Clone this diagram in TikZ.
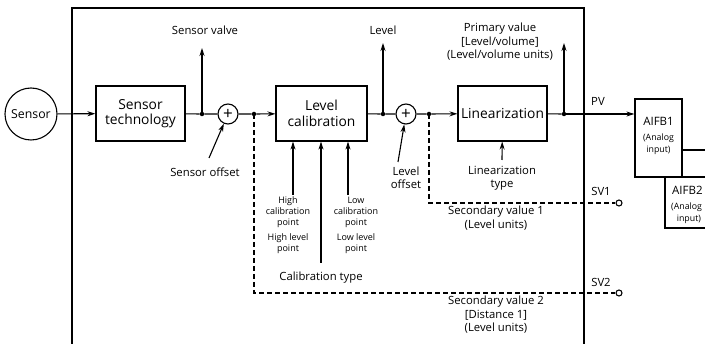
\documentclass[tikz,border=0pt]{standalone}
\usepackage{fontspec}
\setmainfont{Open Sans}
\usetikzlibrary{arrows.meta}
\begin{document}
\begin{tikzpicture}[x=1pt,y=-1pt,
  box/.style={draw,line width=1.2pt,minimum height=55pt,align=center,font=\fontsize{13.8}{15.5}\selectfont,inner sep=0pt},
  sumnode/.style={draw,circle,line width=1.1pt,minimum size=20pt,inner sep=0pt,font=\fontsize{17}{17}\selectfont},
  lbl/.style={font=\fontsize{11.3}{13.5}\selectfont,align=center,inner sep=0pt},
  small/.style={font=\fontsize{9}{11}\selectfont,align=center,inner sep=0pt},
  wire/.style={line width=1.1pt},
  arr/.style={wire,-{Stealth[length=8pt,width=5pt]}},
  dashwire/.style={wire,dash pattern=on 5pt off 3pt},
  dot/.style={circle,fill,inner sep=0pt,minimum size=4.5pt},
  opencirc/.style={circle,draw,line width=1.1pt,inner sep=0pt,minimum size=6pt,fill=white}
]
\useasboundingbox (0,0) rectangle (705,344);
% frame
\draw[line width=1.4pt] (72,344) -- (72,8) -- (584,8) -- (584,344);

% main nodes
\node[draw,circle,line width=1.1pt,minimum size=52pt,inner sep=0pt,font=\fontsize{12.3}{13}\selectfont] (sensor) at (31,114) {Sensor};
\node[box,minimum width=89pt] (stech) at (140.5,113.5) {Sensor\\technology};
\node[sumnode] (sum1) at (228,114) {+};
\node[box,minimum width=91pt] (lcal) at (321.5,113.5) {Level\\calibration};
\node[sumnode] (sum2) at (406,114) {+};
\node[box,minimum width=89pt] (lin) at (502.5,113.5) {Linearization};

% dots
\node[dot] (d1) at (202,114) {};
\node[dot] (d2) at (254,114) {};
\node[dot] (d3) at (383,114) {};
\node[dot] (d4) at (429,114) {};
\node[dot] (d5) at (564,114) {};

% AIFB boxes
\node[draw,line width=1.2pt,minimum width=47pt,minimum height=78pt,inner sep=0pt] (aifb1) at (658.5,138) {};
\node[font=\fontsize{11.5}{12}\selectfont,inner sep=0pt] (aifb1t) at (658.5,121) {AIFB1};
\node[small,font=\fontsize{8.8}{12}\selectfont] (aifb1s) at (658.5,144) {(Analog\\input)};
\coordinate (a2tl) at (665,177);
\coordinate (a2bl) at (665,228);
\coordinate (a2tr) at (705,177);
\coordinate (a2br) at (705,228);
\draw[line width=1.2pt] (a2tr) -- (a2tl) -- (a2bl) -- (a2br);
\node[font=\fontsize{11.5}{12}\selectfont,inner sep=0pt,anchor=west] (aifb2t) at (672,190) {AIFB2};
\node[small,font=\fontsize{8.8}{12}\selectfont,anchor=west] (aifb2s) at (671,213) {(Analog\\\ \ input)};
\coordinate (aout) at (705,150);
\draw[wire] (aifb1.east |- aout) -- (aout);

% main signal chain
\draw[arr] (sensor) -- (stech);
\draw[wire] (stech) -- (d1) -- (sum1);
\draw[arr] (sum1) -- (d2) -- (lcal);
\draw[wire] (lcal) -- (d3) -- (sum2);
\draw[arr] (sum2) -- (d4) -- (lin);
\draw[wire] (lin) -- (d5);
\draw[arr] (d5) -- (aifb1.west |- d5);

% upward outputs
\coordinate (u1) at (202,48);
\coordinate (u2) at (383,43);
\coordinate (u3) at (564,43);
\draw[arr] (d1.center) -- (u1);
\draw[arr] (d3.center) -- (u2);
\draw[arr] (d5.center) -- (u3);

% labels top
\node[lbl] (sv) at (205,30) {Sensor valve};
\node[lbl] (lv) at (383,30) {Level};
\node[lbl] (pv) at (500,42) {Primary value\\{[}Level/volume]\\(Level/volume units)};
\node[lbl] (pvl) at (598,101) {PV};

% offsets
\coordinate (so) at (209,158);
\coordinate (lo) at (398,162);
\draw[arr] (so) -- (sum1);
\draw[arr] (lo) -- (sum2);
\node[lbl] (sol) at (205,172) {Sensor offset};
\node[lbl] (lol) at (406,178) {Level\\offset};

% linearization type
\coordinate (lt) at (502,160);
\draw[arr] (lt) -- (lin);
\node[lbl] (ltl) at (502,178) {Linearization\\type};

% calibration inputs
\coordinate (in1) at (293,195);
\coordinate (in2) at (321,263);
\coordinate (in3) at (348,195);
\draw[arr] (in1) -- (in1 |- lcal.south);
\draw[arr] (in2) -- (in2 |- lcal.south);
\draw[arr] (in3) -- (in3 |- lcal.south);
\node[small] (hcp) at (288,212) {High\\calibration\\point};
\node[small] (hlp) at (288,244) {High level\\point};
\node[small] (lcp) at (356,212) {Low\\calibration\\point};
\node[small] (llp) at (356,244) {Low level\\point};
\node[lbl] (ct) at (321,278) {Calibration type};

% secondary values
\node[opencirc] (sv1) at (619,203) {};
\node[opencirc] (sv2) at (619,293) {};
\draw[dashwire] (d4.center) |- (sv1);
\draw[dashwire] (d2.center) |- (sv2);
\node[lbl] (sv1l) at (601,191) {SV1};
\node[lbl] (sv2l) at (601,282) {SV2};
\node[lbl] (sv1t) at (496,218) {Secondary value 1\\(Level units)};
\node[lbl] (sv2t) at (496,315) {Secondary value 2\\{[}Distance 1]\\(Level units)};
\end{tikzpicture}
\end{document}
